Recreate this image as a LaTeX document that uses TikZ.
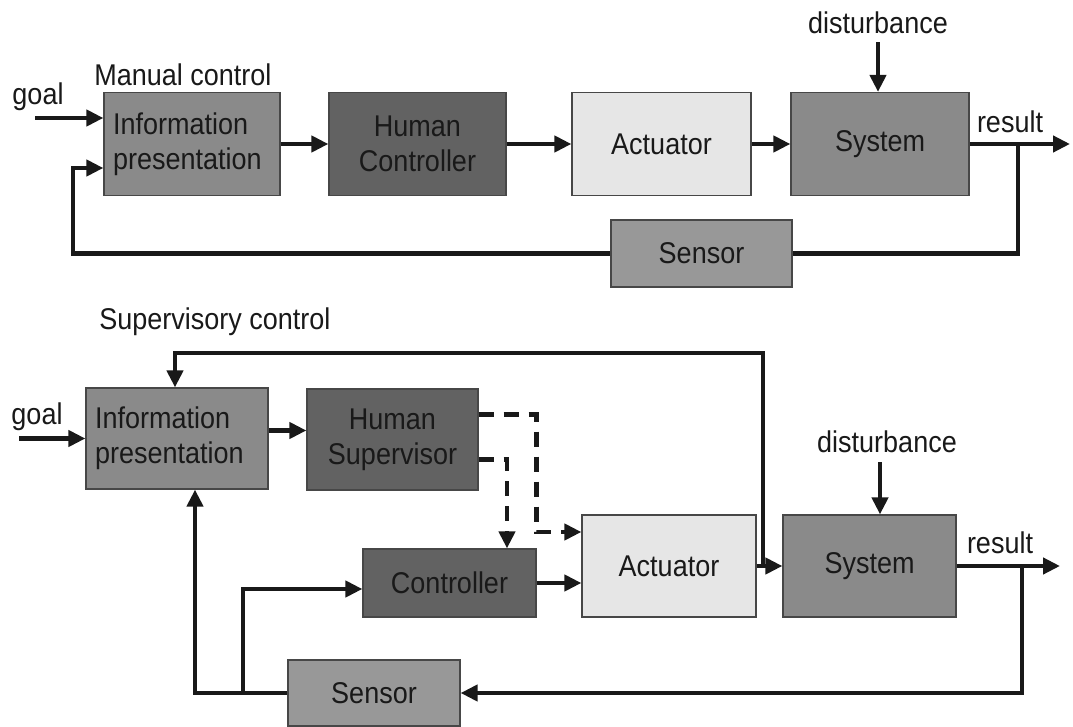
\documentclass[tikz,border=0pt]{standalone}
\usepackage{fontspec}
\setmainfont{Liberation Sans}[FakeStretch=0.9]
\usetikzlibrary{positioning}
\usetikzlibrary{calc}
\usetikzlibrary{arrows.meta}
\definecolor{BoxMid}{RGB}{138,138,138}
\definecolor{BoxDark}{RGB}{98,98,98}
\definecolor{BoxLight}{RGB}{230,230,230}
\definecolor{BoxSensor}{RGB}{152,152,152}
\definecolor{LineDark}{RGB}{25,25,25}

\begin{document}
\begin{tikzpicture}[x=1pt,y=-1pt,
		blk/.style={draw=LineDark!80,line width=1.2pt,inner sep=0pt,font=\fontsize{30}{35}\selectfont,text=LineDark,align=center},
		infoblk/.style={blk,fill=BoxMid,text width=#1,align=left,inner xsep=9pt},
		lbl/.style={inner sep=0pt,font=\fontsize{30}{32}\selectfont,text=LineDark},
		conn/.style={draw=LineDark,line width=4.2pt},
		arr/.style={conn,-{Triangle[length=17pt,width=16pt]}},
		dasharr/.style={arr,dash pattern=on 15pt off 10pt}]
			\path[use as bounding box,fill=white] (0,0) rectangle (1073,727);
			% manual control
			\begin{scope}
				\node[lbl] (manT) at (183,75) {Manual control};
				\node[lbl] (goal1) at (38,97) {goal};
				\node[lbl] (dist1) at (878,23) {disturbance};
				\node[lbl] (resT1) at (1010,122) {result};
				\node[infoblk=158pt,minimum height=103pt] (info1) at (192,144) {Information\\presentation};
				\node[blk,fill=BoxDark,minimum width=177pt,minimum height=103pt] (hc1) at (417.5,144) {Human\\Controller};
				\node[blk,fill=BoxLight,minimum width=179pt,minimum height=103pt] (act1) at (661.5,144) {Actuator};
				\node[blk,fill=BoxMid,minimum width=178pt,minimum height=103pt] (sys1) at (880,144) {System};
				\node[blk,fill=BoxSensor,minimum width=181pt,minimum height=67pt] (sens1) at (701.5,253.5) {Sensor};
			
				\coordinate (goalIn1) at (35,118);
				\coordinate (res1) at (1070,144);
				\coordinate (fb1) at (1018,144);
				\coordinate (fbl1) at (73,253.5);
				\draw[arr] (goalIn1) -- (goalIn1 -| info1.west);
				\draw[arr] (info1) -- (hc1);
				\draw[arr] (hc1) -- (act1);
				\draw[arr] (act1) -- (sys1);
				\draw[arr] (sys1) -- (res1);
				\draw[arr] ([yshift=-8pt]dist1.south) -- (dist1.south |- sys1.north);
				\draw[conn] (fb1) |- (sens1);
				\draw[arr] (sens1) -- (fbl1) |- ([yshift=-24pt]info1.west);
			\end{scope}
			% supervisory control
			\begin{scope}
				\node[lbl] (supT) at (215,322) {Supervisory control};
				\node[lbl] (goal2) at (37,417) {goal};
				\node[lbl] (dist2) at (887,442) {disturbance};
				\node[lbl] (resT2) at (1000,543) {result};
				\node[infoblk=164pt,minimum height=101pt] (info2) at (177,438.5) {Information\\presentation};
				\node[blk,fill=BoxDark,minimum width=171pt,minimum height=101pt] (hs2) at (392.5,439.5) {Human\\Supervisor};
				\node[blk,fill=BoxDark,minimum width=173pt,minimum height=68pt] (ctrl2) at (449.5,583) {Controller};
				\node[blk,fill=BoxLight,minimum width=174pt,minimum height=102pt] (act2) at (669,566) {Actuator};
				\node[blk,fill=BoxMid,minimum width=173pt,minimum height=102pt] (sys2) at (869.5,566) {System};
				\node[blk,fill=BoxSensor,minimum width=172pt,minimum height=66pt] (sens2) at (374,693) {Sensor};
			
				\coordinate (goalIn2) at (19,438.5);
				\coordinate (j2) at (763,566);
				\coordinate (tl2) at (175,353);
				\coordinate (res2) at (1060,566);
				\coordinate (fb2) at (1022,566);
				\coordinate (fbl2) at (195,693);
				\coordinate (br2) at (243,693);
				\draw[arr] (goalIn2) -- (info2);
				\draw[arr] ([yshift=8pt]info2.east) -- ([yshift=8pt]info2.east -| hs2.west);
				\draw[dasharr] ([yshift=25pt]hs2.east) -| ([xshift=-45pt,yshift=34pt]act2.west) -- ([yshift=34pt]act2.west);
				\draw[dasharr] ([yshift=-20pt]hs2.east) -| ([xshift=57.5pt]ctrl2.north);
				\draw[arr] (ctrl2) -- (ctrl2 -| act2.west);
				\draw[arr] (act2) -- (sys2);
				\draw[arr] (j2) |- (tl2) -- (tl2 |- info2.north);
				\draw[arr] (sys2) -- (res2);
				\draw[arr] ([xshift=-7pt,yshift=-9pt]dist2.south) -- ([xshift=-7pt]dist2.south |- sys2.north);
				\draw[arr] (fb2) |- (sens2);
				\draw[arr] (sens2) -- (fbl2) -- (fbl2 |- info2.south);
				\draw[arr] (br2) |- ([yshift=-6pt]ctrl2.west);
			\end{scope}
		\end{tikzpicture}
\end{document}
